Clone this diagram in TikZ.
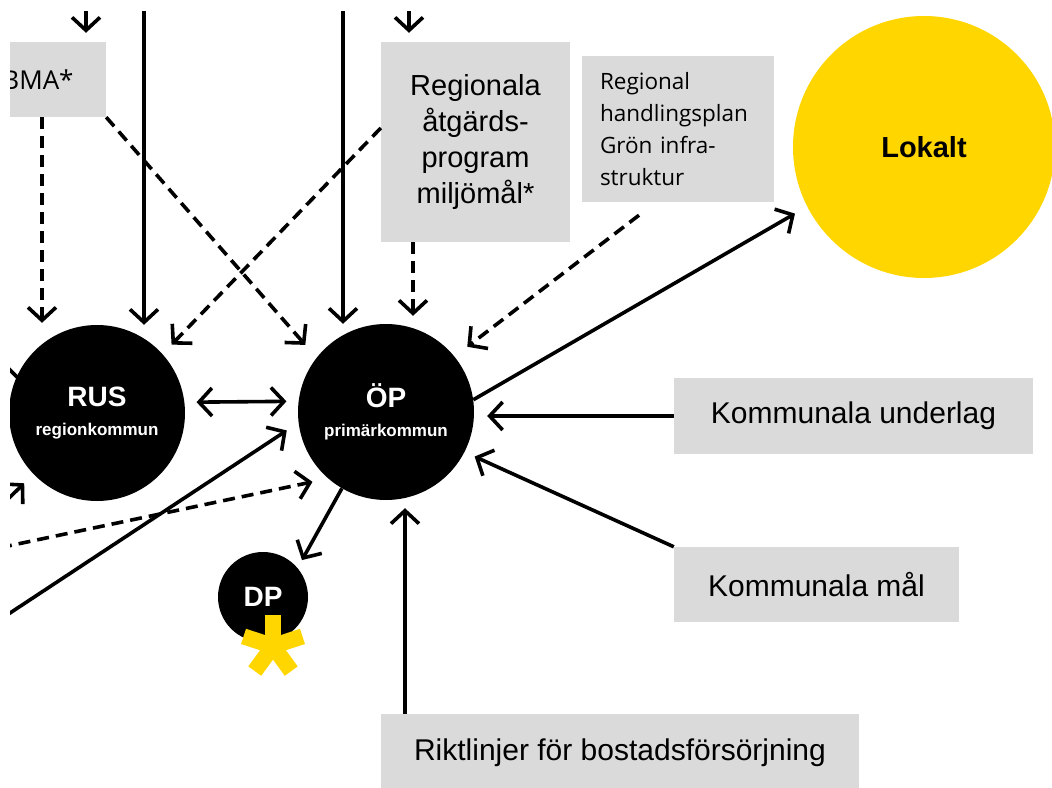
\documentclass[tikz,border=0pt]{standalone}
\usepackage{fontspec}
\setmainfont{Liberation Sans}
\newfontfamily\segoe{Open Sans}
\usetikzlibrary{arrows.meta,calc}

\definecolor{lokgul}{RGB}{255,214,0}
\definecolor{rutgra}{RGB}{218,218,218}

\tikzset{
  ruta/.style={fill=rutgra, inner sep=0pt, align=center},
  plan/.style={circle, fill=black, text=white, inner sep=0pt, align=center,
               font=\bfseries\fontsize{17}{29}\selectfont},
  pil/.style={line width=3.6pt, ->},
  streckpil/.style={pil, dash pattern=on 12pt off 7pt},
}

\begin{document}
\begin{tikzpicture}[x=1pt, y=-1pt, >={Straight Barb[length=13pt,width=28pt]}]

    \useasboundingbox (0,0) rectangle (1052,787);
    \clip (10,11) rectangle (1052,787);

    % -- Linje bakom RUS --
    \draw[line width=3.6pt] (-10,350) -- (40,400);

    % -- Rutor --
    \node[ruta, minimum width=136pt, minimum height=75pt,
          font=\segoe\fontsize{26}{30}\selectfont] (bma) at (38,79.5) {BMA*};
    \node[ruta, minimum width=189pt, minimum height=200pt,
          font=\fontsize{29}{36}\selectfont] (reg) at (475.5,142)
          {Regionala\\åtgärds-\\program\\miljömål*};
    \node[ruta, minimum width=192pt, minimum height=146pt, text width=156pt, align=left,
          font=\segoe\fontsize{22.5}{32}\selectfont] (hp) at (678,129)
          {Regional\\handlingsplan\\Grön infra-\\struktur};
    \node[ruta, minimum width=359pt, minimum height=76pt,
          font=\fontsize{30}{36}\selectfont] (ku) at (853.5,416) {Kommunala underlag};
    \node[ruta, minimum width=285pt, minimum height=75pt,
          font=\fontsize{30}{36}\selectfont] (km) at (816.5,584.5) {Kommunala mål};
    \node[ruta, minimum width=478pt, minimum height=78pt,
          font=\fontsize{30}{36}\selectfont] (rb) at (620,753) {Riktlinjer för bostadsförsörjning};

    % -- Cirklar --
    \node[plan, minimum size=176pt] (rus) at (97,413)
          {{\fontsize{28}{29}\selectfont RUS}\\regionkommun};
    \node[plan, minimum size=176pt] (op) at (386,412)
          {{\fontsize{28}{29}\selectfont ÖP}\\primärkommun};
    \node[plan, minimum size=90pt, font=\bfseries\fontsize{28}{30}\selectfont] (dp) at (263,597) {DP};
    \node[circle, fill=lokgul, minimum size=262pt, inner sep=0pt,
          font=\bfseries\fontsize{29}{32}\selectfont] (lok) at (924,147) {Lokalt};

    % stjärna vid DP
    \coordinate (stjarna) at (273,646);
    \foreach \v in {-90,-162,-18,126,54}
        \draw[lokgul, line width=16pt] (stjarna) -- ++(\v:31);

    % -- Fria ändar --
    \coordinate (o0) at (42,0);
    \coordinate (o1) at (86,0);
    \coordinate (o2) at (144,0);
    \coordinate (o3) at (343,0);
    \coordinate (o4) at (409,0);
    \coordinate (x405) at (405,0);
    \coordinate (x413) at (413,0);
    \coordinate (v1) at (0,619.6);
    \coordinate (v2) at (0,547.7);
    \coordinate (v3) at (-19,525);

    % -- Pilar --
    \draw[pil, shorten >=9pt] (o1) -- (o1 |- bma.north);
    \draw[pil] (o2) -- (o2 |- rus.north);
    \draw[pil] (o3) -- (o3 |- op.north);
    \draw[pil, shorten >=9pt] (o4) -- (o4 |- reg.north);

    \draw[streckpil, shorten >=2pt] (o0 |- bma.south) -- (o0 |- rus.north);
    \draw[streckpil, shorten >=17pt] (bma.south east) -- (op.142);
    \draw[streckpil, shorten >=13pt] ($(reg.west)+(0,-14)$) -- (rus.42);
    \draw[streckpil, shorten >=8pt] (x413 |- reg.south) -- (x413 |- op.north);
    \draw[streckpil, shorten >=16pt] ($(hp.south)+(-39,13)$) -- (op.39);

    \draw[pil, shorten >=14pt] (op.8) -- (lok.207);
    \draw[pil, shorten >=13pt] (ku.west) -- (ku.west -| op.east);
    \draw[pil, shorten >=11pt] (km.north west) -- (op.-27);
    \draw[pil, shorten >=8pt] (x405 |- rb.north) -- (x405 |- op.south);
    \draw[pil, shorten >=9pt] (op.-120) -- (dp.40);
    \draw[pil, <->, shorten >=12pt, shorten <=12pt] (rus.7) -- (op.173);

    \draw[pil, shorten >=14pt] (v1) -- (op.187);
    \draw[streckpil, shorten >=16pt] (v2) -- (op.-131);
    \draw[pil, shorten >=13pt] (v3) -- (rus.-136);

\end{tikzpicture}
\end{document}
